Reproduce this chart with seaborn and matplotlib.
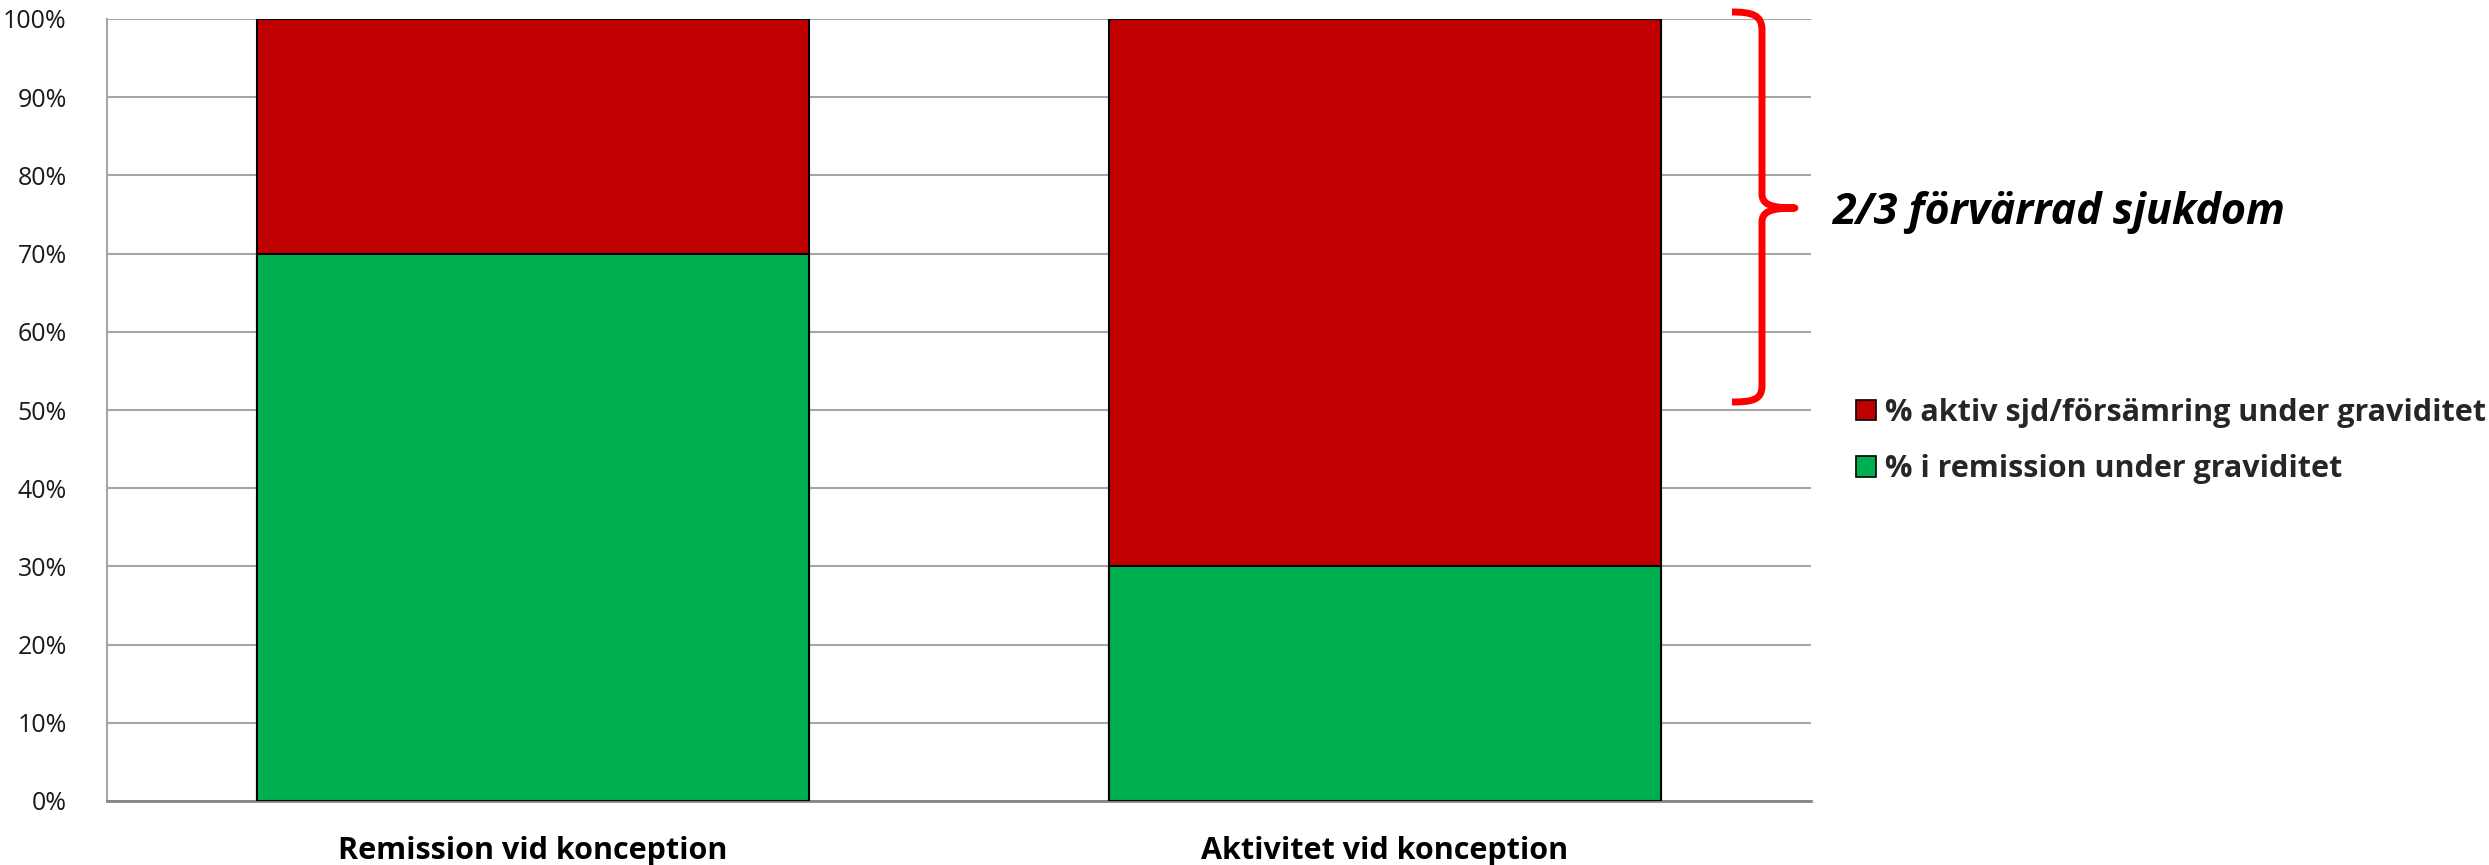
import matplotlib
matplotlib.use("Agg")
import matplotlib.pyplot as plt
import seaborn as sns
import pandas as pd
from matplotlib.patches import Patch, PathPatch
from matplotlib.path import Path
from matplotlib.ticker import FuncFormatter

categories = ["Remission vid konception", "Aktivitet vid konception"]
remission_pct = [70, 30]
aktiv_pct = [30, 70]
series_labels = ["% aktiv sjd/försämring under graviditet", "% i remission under graviditet"]
annotation_text = "2/3 förvärrad sjukdom"
yticks = [0, 10, 20, 30, 40, 50, 60, 70, 80, 90, 100]

RED = "#C00000"
GREEN = "#00B050"

sns.set_theme(style="white")
plt.rcParams["font.family"] = ["Open Sans", "DejaVu Sans"]

df = pd.DataFrame({
    "kategori": categories,
    "remission": remission_pct,
    "total": [r + a for r, a in zip(remission_pct, aktiv_pct)],
})

W, H = 2489, 865
fig = plt.figure(figsize=(W / 100, H / 100), dpi=100)
ax = fig.add_axes([107 / W, (H - 801) / H, (1811 - 107) / W, (801 - 19) / H])

bw = 0.647
sns.barplot(data=df, x="kategori", y="total", color=RED, width=bw,
            edgecolor="black", linewidth=1.5, saturation=1, ax=ax, zorder=3)
sns.barplot(data=df, x="kategori", y="remission", color=GREEN, width=bw,
            edgecolor="black", linewidth=1.5, saturation=1, ax=ax, zorder=4)

ax.set_xlim(-0.5, 1.5)
ax.set_ylim(0, 100)
ax.set_yticks(yticks)
ax.yaxis.set_major_formatter(FuncFormatter(lambda v, p: f"{int(v)}%"))
ax.grid(axis="y", color="#A6A6A6", linewidth=1.5, zorder=0)
ax.grid(axis="x", visible=False)
ax.set_axisbelow(True)
for s in ["top", "right"]:
    ax.spines[s].set_visible(False)
ax.spines["left"].set_color("#A6A6A6")
ax.spines["left"].set_linewidth(1.5)
ax.spines["bottom"].set_color("#868686")
ax.spines["bottom"].set_linewidth(2)
ax.tick_params(axis="y", length=0, pad=29, labelsize=18, labelcolor="#1a1a1a")
ax.tick_params(axis="x", length=0, pad=25, labelsize=22)
for lab in ax.get_xticklabels():
    lab.set_fontweight("bold")
    lab.set_color("black")
ax.set_xlabel("")
ax.set_ylabel("")

# overlay in pixel coordinates for the brace annotation
ov = fig.add_axes([0, 0, 1, 1], zorder=10)
ov.set_xlim(0, W)
ov.set_ylim(H, 0)
ov.axis("off")
verts = [
    (1732, 12), (1752, 12), (1762, 15), (1762, 30),
    (1762, 194),
    (1762, 204), (1770, 208), (1795, 208),
    (1770, 208), (1762, 212), (1762, 222),
    (1762, 386),
    (1762, 400), (1752, 402), (1732, 402),
]
codes = [Path.MOVETO, Path.CURVE4, Path.CURVE4, Path.CURVE4,
         Path.LINETO,
         Path.CURVE4, Path.CURVE4, Path.CURVE4,
         Path.CURVE4, Path.CURVE4, Path.CURVE4,
         Path.LINETO,
         Path.CURVE4, Path.CURVE4, Path.CURVE4]
ov.add_patch(PathPatch(Path(verts, codes), facecolor="none", edgecolor="#FF0000",
                       linewidth=5, capstyle="butt", joinstyle="round"))
ov.text(1832, 213, annotation_text, fontsize=31, fontweight="bold", fontstyle="italic",
        va="center", ha="left", color="black")

handles = [Patch(facecolor=RED, edgecolor="black", linewidth=1.2),
           Patch(facecolor=GREEN, edgecolor="black", linewidth=1.2)]
leg = fig.legend(handles, series_labels, loc="upper left",
                 bbox_to_anchor=(1856 / W, (H - 398) / H), frameon=False,
                 prop={"size": 22, "weight": "bold"}, handlelength=0.65,
                 handleheight=0.65, handletextpad=0.3, labelspacing=0.86,
                 borderaxespad=0, borderpad=0)

fig.savefig("out.png", dpi=100)
